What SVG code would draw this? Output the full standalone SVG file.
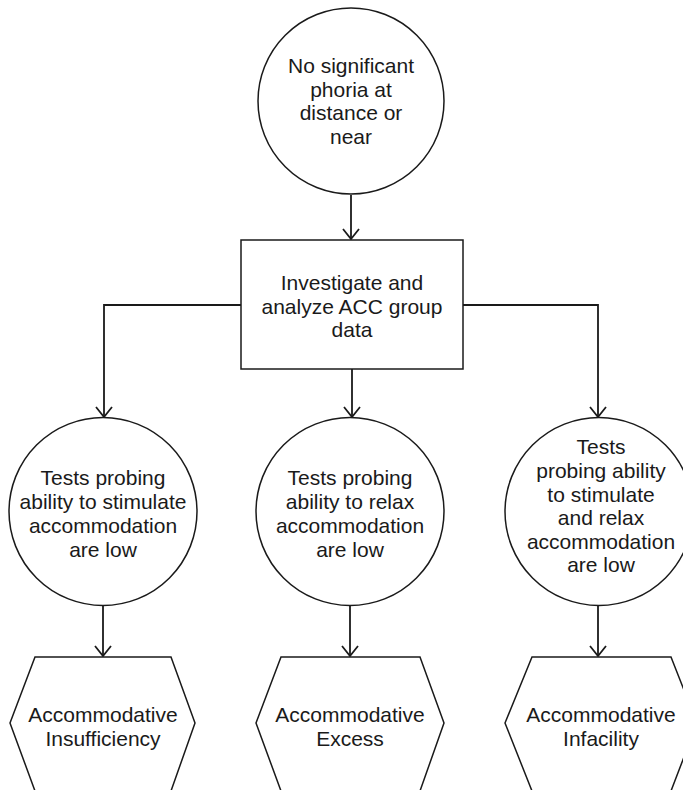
<svg xmlns="http://www.w3.org/2000/svg" width="683" height="790" viewBox="0 0 683 790">
<style>
.shape{fill:#fff;stroke:#1a1a1a;stroke-width:1.5}
.conn{fill:none;stroke:#1a1a1a;stroke-width:1.8}
text{font-family:"Liberation Sans",Arial,sans-serif;font-size:21px;fill:#1a1a1a;text-anchor:middle}
</style>
<defs>
<marker id="arr" viewBox="0 0 20 20" refX="19" refY="10" markerWidth="20" markerHeight="20" markerUnits="userSpaceOnUse" orient="auto">
<polyline points="9,2 19,10 9,18" fill="none" stroke="#1a1a1a" stroke-width="1.8"/>
</marker>
</defs>
<rect width="683" height="790" fill="#fff"/>
<g id="connectors">
<path class="conn" d="M351,195 V239" marker-end="url(#arr)"/>
<path class="conn" d="M241,305 H104 V417" marker-end="url(#arr)"/>
<path class="conn" d="M463,305 H598 V417" marker-end="url(#arr)"/>
<path class="conn" d="M352,369 V417" marker-end="url(#arr)"/>
<path class="conn" d="M103,605 V656" marker-end="url(#arr)"/>
<path class="conn" d="M350,605 V656" marker-end="url(#arr)"/>
<path class="conn" d="M598,605 V656" marker-end="url(#arr)"/>
</g>
<g id="start">
<circle class="shape" cx="351" cy="101" r="93"/>
<text x="351" y="73">No significant</text>
<text x="351" y="97">phoria at</text>
<text x="351" y="120">distance or</text>
<text x="351" y="144">near</text>
</g>
<g id="investigate">
<rect class="shape" x="241" y="240" width="222" height="129"/>
<text x="352" y="290">Investigate and</text>
<text x="352" y="314">analyze ACC group</text>
<text x="352" y="337">data</text>
</g>
<g id="stimulate">
<circle class="shape" cx="103" cy="511.5" r="94"/>
<text x="103" y="485">Tests probing</text>
<text x="103" y="509">ability to stimulate</text>
<text x="103" y="533">accommodation</text>
<text x="103" y="557">are low</text>
</g>
<g id="relax">
<circle class="shape" cx="350" cy="511.5" r="94"/>
<text x="350" y="485">Tests probing</text>
<text x="350" y="509">ability to relax</text>
<text x="350" y="533">accommodation</text>
<text x="350" y="557">are low</text>
</g>
<g id="both">
<circle class="shape" cx="599" cy="511.5" r="94"/>
<text x="601" y="454">Tests</text>
<text x="601" y="478">probing ability</text>
<text x="601" y="502">to stimulate</text>
<text x="601" y="525">and relax</text>
<text x="601" y="549">accommodation</text>
<text x="601" y="572">are low</text>
</g>
<g id="insufficiency">
<polygon class="shape" points="10,723 35,657 171,657 195,723 171,791 35,791"/>
<text x="103" y="722">Accommodative</text>
<text x="103" y="746">Insufficiency</text>
</g>
<g id="excess">
<polygon class="shape" points="256,723 281,657 420,657 444,723 420,791 281,791"/>
<text x="350" y="722">Accommodative</text>
<text x="350" y="746">Excess</text>
</g>
<g id="infacility">
<polygon class="shape" points="505,723 532,657 671,657 697,723 671,791 532,791"/>
<text x="601" y="722">Accommodative</text>
<text x="601" y="746">Infacility</text>
</g>
</svg>
